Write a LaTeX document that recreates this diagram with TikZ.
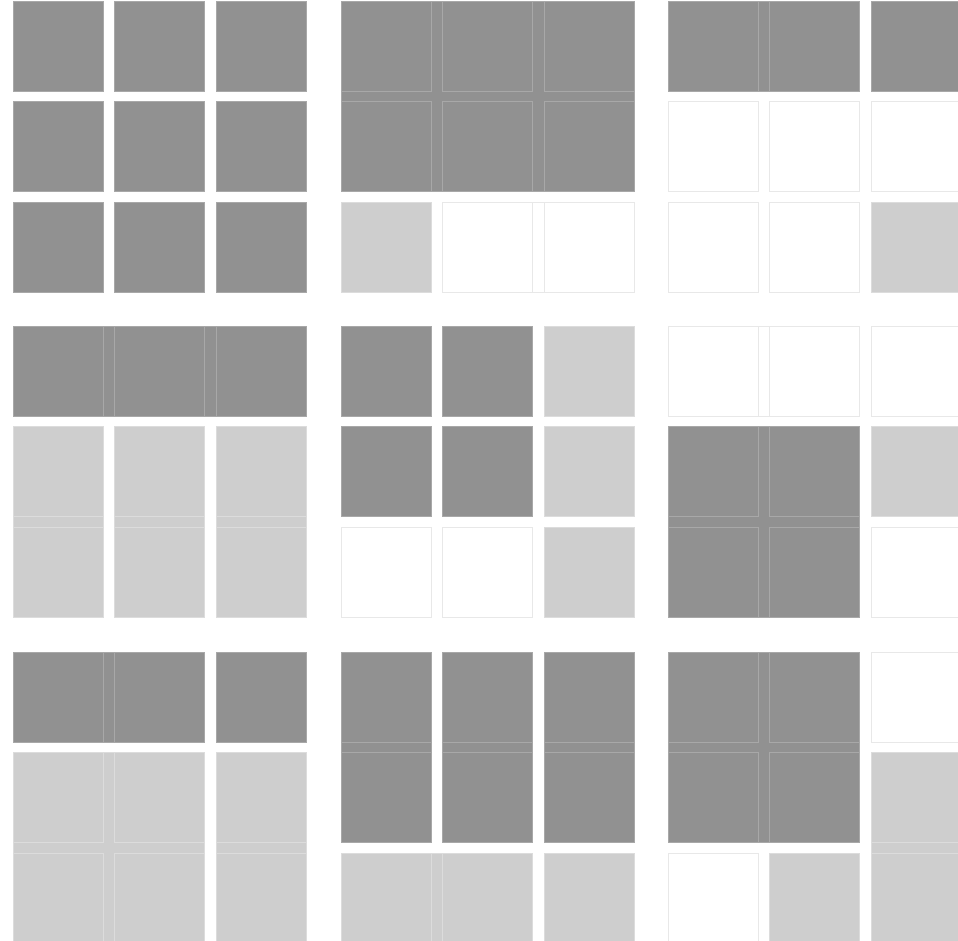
\documentclass[tikz,border=0pt]{standalone}
\definecolor{dkc}{RGB}{145,145,145}
\definecolor{dkl}{RGB}{168,168,168}
\definecolor{ltc}{RGB}{206,206,206}
\definecolor{ltl}{RGB}{220,220,220}
\definecolor{wtl}{RGB}{232,232,232}
\newcommand\cpx{101.5}
\newcommand\cpy{100.7}
\newcommand\cellbox[5]{\path[#5] ({#1+#4*\cpx},{#2+#3*\cpy}) rectangle ++(90,90);}
\newcommand\blockbox[7]{\path[#7] ({#1+#4*\cpx},{#2+#3*\cpy}) rectangle ({#1+#6*\cpx+90},{#2+#5*\cpy+90});}
\tikzset{
  dk/.style={fill=dkc,draw=dkl,line width=0.7pt},
  lt/.style={fill=ltc,draw=ltl,line width=0.7pt},
  wt/.style={fill=white,draw=wtl,line width=0.7pt},
  dkb/.style={fill=dkc,draw=dkl,line width=0.7pt},
  ltb/.style={fill=ltc,draw=ltl,line width=0.7pt},
  wtb/.style={fill=white,draw=wtl,line width=0.7pt}
}
\begin{document}
\begin{tikzpicture}[x=1pt,y=-1pt]
\useasboundingbox (0,0) rectangle (958,940);
\clip (0,0) rectangle (958,940);
\fill[white] (0,0) rectangle (958,940);
% Panel 1
\foreach \r in {0,1,2}{\foreach \c in {0,1,2}{\cellbox{13}{1}{\r}{\c}{dk}}}
% Panel 2
\blockbox{341}{1}{0}{0}{1}{2}{dkb}
\foreach \r in {0,1}{\foreach \c in {0,1,2}{\cellbox{341}{1}{\r}{\c}{dk}}}
\cellbox{341}{1}{2}{0}{lt}
\blockbox{341}{1}{2}{1}{2}{2}{wtb}
\cellbox{341}{1}{2}{1}{wt}
\cellbox{341}{1}{2}{2}{wt}
% Panel 3
\blockbox{668}{1}{0}{0}{0}{1}{dkb}
\foreach \c in {0,1,2}{\cellbox{668}{1}{0}{\c}{dk}}
\foreach \c in {0,1,2}{\cellbox{668}{1}{1}{\c}{wt}}
\cellbox{668}{1}{2}{0}{wt}
\cellbox{668}{1}{2}{1}{wt}
\cellbox{668}{1}{2}{2}{lt}
% Panel 4
\blockbox{13}{326}{0}{0}{0}{2}{dkb}
\foreach \c in {0,1,2}{\cellbox{13}{326}{0}{\c}{dk}}
\foreach \c in {0,1,2}{\blockbox{13}{326}{1}{\c}{2}{\c}{ltb}}
\foreach \r in {1,2}{\foreach \c in {0,1,2}{\cellbox{13}{326}{\r}{\c}{lt}}}
% Panel 5
\foreach \r in {0,1}{\foreach \c in {0,1}{\cellbox{341}{326}{\r}{\c}{dk}}}
\foreach \r in {0,1,2}{\cellbox{341}{326}{\r}{2}{lt}}
\cellbox{341}{326}{2}{0}{wt}
\cellbox{341}{326}{2}{1}{wt}
% Panel 6
\blockbox{668}{326}{0}{0}{0}{1}{wtb}
\foreach \c in {0,1,2}{\cellbox{668}{326}{0}{\c}{wt}}
\blockbox{668}{326}{1}{0}{2}{1}{dkb}
\foreach \r in {1,2}{\foreach \c in {0,1}{\cellbox{668}{326}{\r}{\c}{dk}}}
\cellbox{668}{326}{1}{2}{lt}
\cellbox{668}{326}{2}{2}{wt}
% Panel 7
\blockbox{13}{652}{0}{0}{0}{1}{dkb}
\foreach \c in {0,1,2}{\cellbox{13}{652}{0}{\c}{dk}}
\blockbox{13}{652}{1}{0}{2}{1}{ltb}
\blockbox{13}{652}{1}{2}{2}{2}{ltb}
\foreach \r in {1,2}{\foreach \c in {0,1,2}{\cellbox{13}{652}{\r}{\c}{lt}}}
% Panel 8
\foreach \c in {0,1,2}{\blockbox{341}{652}{0}{\c}{1}{\c}{dkb}}
\foreach \r in {0,1}{\foreach \c in {0,1,2}{\cellbox{341}{652}{\r}{\c}{dk}}}
\blockbox{341}{652}{2}{0}{2}{1}{ltb}
\foreach \c in {0,1,2}{\cellbox{341}{652}{2}{\c}{lt}}
% Panel 9
\blockbox{668}{652}{0}{0}{1}{1}{dkb}
\foreach \r in {0,1}{\foreach \c in {0,1}{\cellbox{668}{652}{\r}{\c}{dk}}}
\cellbox{668}{652}{0}{2}{wt}
\blockbox{668}{652}{1}{2}{2}{2}{ltb}
\cellbox{668}{652}{1}{2}{lt}
\cellbox{668}{652}{2}{2}{lt}
\cellbox{668}{652}{2}{0}{wt}
\cellbox{668}{652}{2}{1}{lt}
\end{tikzpicture}
\end{document}
